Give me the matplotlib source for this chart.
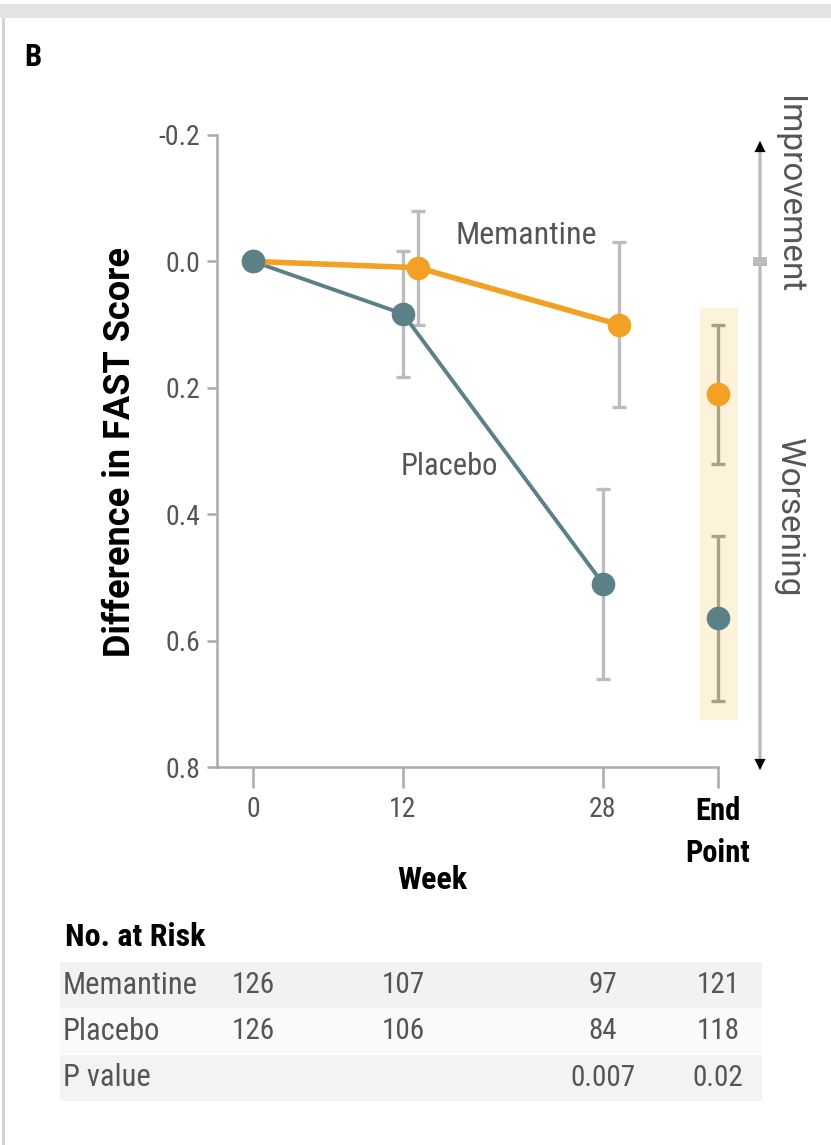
import matplotlib
matplotlib.use("Agg")
import matplotlib.pyplot as plt
import matplotlib.transforms as mtransforms
from matplotlib import font_manager
from matplotlib.patches import Rectangle, FancyArrowPatch

# police étroite si disponible
fam = "DejaVu Sans"
for cand in ["Roboto Condensed", "Liberation Sans Narrow"]:
    try:
        font_manager.findfont(cand, fallback_to_default=False)
        fam = cand
        break
    except Exception:
        pass
plt.rcParams["font.family"] = [fam, "DejaVu Sans"]
wide = ["Roboto", "DejaVu Sans"]

# données
weeks = [0, 12, 28]
tick_labels = ["0", "12", "28", "End\nPoint"]
mem_mean = [0.0, 0.01, 0.10]
mem_err = [0.0, 0.09, 0.13]
pla_mean = [0.0, 0.083, 0.51]
pla_err = [0.0, 0.10, 0.15]
end_mem, end_mem_err = 0.21, 0.11
end_pla, end_pla_err = 0.565, 0.13

row_names = ["Memantine", "Placebo", "P value"]
risk_mem = ["126", "107", "97", "121"]
risk_pla = ["126", "106", "84", "118"]
pvals = ["", "", "0.007", "0.02"]

END_X = 37.2
mem_shift = [0, 1.2, 1.3]

orange = "#F2A124"
teal = "#5B8088"
grey_txt = "#555555"
spine_c = "#ABABAB"

W, H = 831, 1145
fig = plt.figure(figsize=(W / 100, H / 100), dpi=100)

def fx(px):
    return px / W

def fy(py):
    return 1 - py / H

# cadre
fig.add_artist(Rectangle((0, fy(18)), 1, fy(4) - fy(18), transform=fig.transFigure,
                         color="#E3E3E3", lw=0))
fig.add_artist(Rectangle((fx(2), 0), fx(3), fy(18), transform=fig.transFigure,
                         color="#D5D5D5", lw=0))

ax = fig.add_axes([fx(217), fy(767), fx(745) - fx(217), fy(135) - fy(767)])
ax.set_xlim(-2.88, -2.88 + 528 / 12.5)
ax.set_ylim(0.8, -0.2)

for s in ["top", "right"]:
    ax.spines[s].set_visible(False)
for s in ["left", "bottom"]:
    ax.spines[s].set_color(spine_c)
    ax.spines[s].set_linewidth(1.8)
ax.spines["bottom"].set_bounds(-2.88, END_X)

ax.set_yticks([-0.2, 0.0, 0.2, 0.4, 0.6, 0.8])
ax.set_yticklabels(["-0.2", "0.0", "0.2", "0.4", "0.6", "0.8"])
ax.set_xticks(weeks + [END_X])
ax.set_xticklabels(tick_labels)
ax.tick_params(axis="y", length=7, width=1.8, color=spine_c, labelsize=20,
               labelcolor=grey_txt, pad=5)
ax.tick_params(axis="x", length=15, width=1.8, color=spine_c, labelsize=20,
               labelcolor=grey_txt, pad=6)
lab = ax.get_xticklabels()[-1]
lab.set_color("black")
lab.set_fontweight("bold")
lab.set_fontsize(22)
lab.set_linespacing(1.5)
lab.set_verticalalignment("top")

# bande point final
ax.add_patch(Rectangle((35.75, 0.073), 3.05, 0.652, color="#FDF3DA", lw=0, zorder=0))

# placebo
ax.errorbar(weeks[1:], pla_mean[1:], yerr=pla_err[1:], fmt="none", ecolor="#BDBDBD",
            elinewidth=2.4, capsize=5, capthick=2.4, zorder=2)
ax.plot(weeks, pla_mean, color=teal, lw=2.8, zorder=3)

# mémantine
mem_x = [w + d for w, d in zip(weeks, mem_shift)]
ax.errorbar(mem_x[1:], mem_mean[1:], yerr=mem_err[1:], fmt="none", ecolor="#BDBDBD",
            elinewidth=2.4, capsize=5, capthick=2.4, zorder=2)
ax.plot(mem_x, mem_mean, color=orange, lw=4, marker="o", ms=16, mec=orange, zorder=4)
ax.plot(weeks, pla_mean, ls="none", marker="o", ms=16, color=teal, zorder=5)

# point final
ax.errorbar([END_X, END_X], [end_mem, end_pla], yerr=[end_mem_err, end_pla_err], fmt="none",
            ecolor="#ABA285", elinewidth=2.4, capsize=5, capthick=2.4, zorder=2)
ax.plot([END_X], [end_mem], "o", ms=16, color=orange, zorder=5)
ax.plot([END_X], [end_pla], "o", ms=16, color=teal, zorder=5)

ax.text(16.2, -0.041, "Memantine", fontsize=23, color=grey_txt, ha="left", va="center")
ax.text(15.7, 0.325, "Placebo", fontsize=22, color=grey_txt, ha="center", va="center")

fig.text(fx(120), fy(452), "Difference in FAST Score", rotation=90, fontsize=26,
         fontweight="bold", ha="center", va="center", family=wide)
fig.text(fx(432), fy(880), "Week", fontsize=23, fontweight="bold", ha="center", va="center")
fig.text(fx(33), fy(57), "B", fontsize=22, fontweight="bold", ha="center", va="center")

# flèche à droite
fig.add_artist(FancyArrowPatch((fx(760), fy(768)), (fx(760), fy(143)),
                               transform=fig.transFigure, arrowstyle="-",
                               color="#B8B8B8", lw=2.2, shrinkA=0, shrinkB=0))
fig.add_artist(FancyArrowPatch((fx(760), fy(172)), (fx(760), fy(141)),
                               transform=fig.transFigure, arrowstyle="-|>",
                               mutation_scale=20, color="black", lw=0, shrinkA=0, shrinkB=0))
fig.add_artist(FancyArrowPatch((fx(760), fy(740)), (fx(760), fy(770)),
                               transform=fig.transFigure, arrowstyle="-|>",
                               mutation_scale=20, color="black", lw=0, shrinkA=0, shrinkB=0))
fig.add_artist(Rectangle((fx(753), fy(266)), fx(14), fy(257) - fy(266),
                         transform=fig.transFigure, color="#BBBBBB", lw=0))
fig.text(fx(789), fy(195), "Improvement", rotation=-90, fontsize=24, color=grey_txt,
         ha="center", va="center", family=wide)
fig.text(fx(789), fy(517), "Worsening", rotation=-90, fontsize=24, color=grey_txt,
         ha="center", va="center", family=wide)

# tableau
fig.text(fx(65), fy(937), "No. at Risk", fontsize=23, fontweight="bold", ha="left", va="center")
row_y = [985, 1031, 1078]
row_bg = ["#F2F2F2", "#FAFAFA", "#F3F3F3"]
for yy, bg in zip(row_y, row_bg):
    fig.add_artist(Rectangle((fx(60), fy(yy + 23)), fx(762) - fx(60), fy(yy - 23) - fy(yy + 23),
                             transform=fig.transFigure, color=bg, lw=0, zorder=0))
trans = mtransforms.blended_transform_factory(ax.transData, fig.transFigure)
cols = weeks + [END_X]
for yy, name, vals in zip(row_y, row_names, [risk_mem, risk_pla, pvals]):
    fig.text(fx(63), fy(yy), name, fontsize=22, color=grey_txt, ha="left", va="center")
    for xv, v in zip(cols, vals):
        ax.text(xv, fy(yy), v, transform=trans, fontsize=21, color=grey_txt,
                ha="center", va="center", clip_on=False)

fig.savefig("out.png", dpi=100)
